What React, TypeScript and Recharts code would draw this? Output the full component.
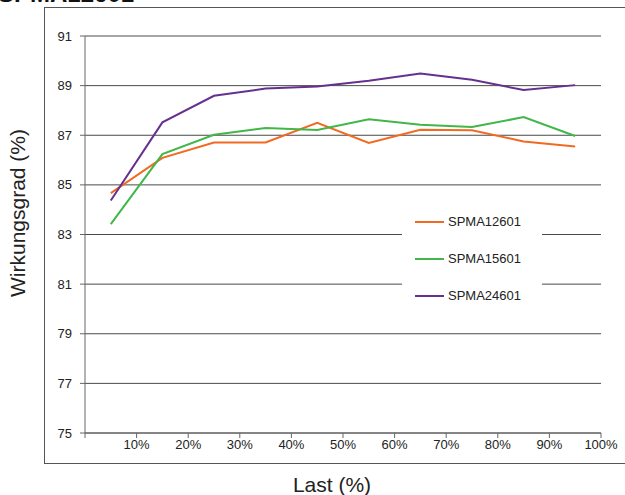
import { LineChart, Line, XAxis, YAxis, CartesianGrid, Legend } from 'recharts';

// Last in %, Messpunkte jeweils in der Mitte des Intervalls
const loads = [5, 15, 25, 35, 45, 55, 65, 75, 85, 95];
const spma12601 = [84.67, 86.09, 86.71, 86.71, 87.5, 86.69, 87.22, 87.2, 86.75, 86.55];
const spma15601 = [83.42, 86.24, 87.02, 87.29, 87.21, 87.64, 87.42, 87.33, 87.73, 86.97];
const spma24601 = [84.37, 87.52, 88.59, 88.88, 88.96, 89.2, 89.49, 89.24, 88.82, 89.02];

const xTicks = [0, 10, 20, 30, 40, 50, 60, 70, 80, 90, 100];
const yTicks = [75, 77, 79, 81, 83, 85, 87, 89, 91];

const series = [
  { key: 'SPMA12601', color: '#F26A22' },
  { key: 'SPMA15601', color: '#41B649' },
  { key: 'SPMA24601', color: '#66308F' },
];

const data = loads.map((load, i) => ({
  load,
  SPMA12601: spma12601[i],
  SPMA15601: spma15601[i],
  SPMA24601: spma24601[i],
}));

const FONT = '"Liberation Sans", Arial, sans-serif';

const LegendBox = () => (
  <div
    style={{
      width: 140,
      height: 104,
      background: '#fff',
      fontFamily: FONT,
      fontSize: 13,
      color: '#222',
      boxSizing: 'border-box',
    }}
  >
    {series.map((s) => (
      <div key={s.key} style={{ display: 'flex', alignItems: 'center', height: 37 }}>
        <div style={{ width: 29, height: 2, background: s.color, marginLeft: 13, marginRight: 4 }} />
        <span>{s.key}</span>
      </div>
    ))}
  </div>
);

// Achsentitel
const XTitle = () => (
  <text x={332} y={484} textAnchor="middle" dominantBaseline="central" fill="#222" fontSize={21} fontFamily={FONT}>
    Last (%)
  </text>
);

const YTitle = () => (
  <text
    x={17}
    y={213}
    transform="rotate(-90 17 213)"
    textAnchor="middle"
    dominantBaseline="central"
    fill="#222"
    fontSize={21}
    fontFamily={FONT}
  >
    Wirkungsgrad (%)
  </text>
);

export default function App() {
  return (
    <div style={{ position: 'absolute', left: 0, top: 0, width: 625, height: 495, overflow: 'hidden', background: '#fff' }}>
      {/* Rahmen */}
      <div
        style={{
          position: 'absolute',
          left: 44,
          top: 7,
          width: 600,
          height: 455,
          border: '1px solid #555',
        }}
      />
      <div
        style={{
          position: 'absolute',
          left: -2,
          top: -20,
          fontFamily: FONT,
          fontWeight: 'bold',
          fontSize: 24,
          color: '#111',
          whiteSpace: 'nowrap',
        }}
      >
        SPMA12601
      </div>
      <div style={{ position: 'absolute', left: 0, top: 0 }}>
        <LineChart width={625} height={495} data={data} margin={{ top: 36, right: 24, bottom: 32, left: 0 }}>
          <CartesianGrid vertical={false} stroke="#4a4a4a" strokeWidth={1} />
          <XAxis
            dataKey="load"
            type="number"
            domain={[0, 100]}
            ticks={xTicks}
            tickFormatter={(v: number) => (v === 0 ? '' : `${v}%`)}
            height={30}
            stroke="#666"
            tickSize={5}
            tickMargin={2}
            tick={{ fill: '#222', fontSize: 13, fontFamily: FONT }}
            label={{ content: <XTitle /> }}
          />
          <YAxis
            type="number"
            domain={[75, 91]}
            ticks={yTicks}
            width={85}
            stroke="#666"
            tickSize={5}
            tickMargin={8}
            tick={{ fill: '#222', fontSize: 13, fontFamily: FONT }}
            label={{ content: <YTitle /> }}
          />
          <Legend
            layout="vertical"
            verticalAlign="middle"
            align="center"
            content={<LegendBox />}
            wrapperStyle={{ left: 402, top: 203, width: 140 }}
          />
          {series.map((s) => (
            <Line
              key={s.key}
              dataKey={s.key}
              type="linear"
              stroke={s.color}
              strokeWidth={2}
              dot={false}
              isAnimationActive={false}
            />
          ))}
        </LineChart>
      </div>
    </div>
  );
}
